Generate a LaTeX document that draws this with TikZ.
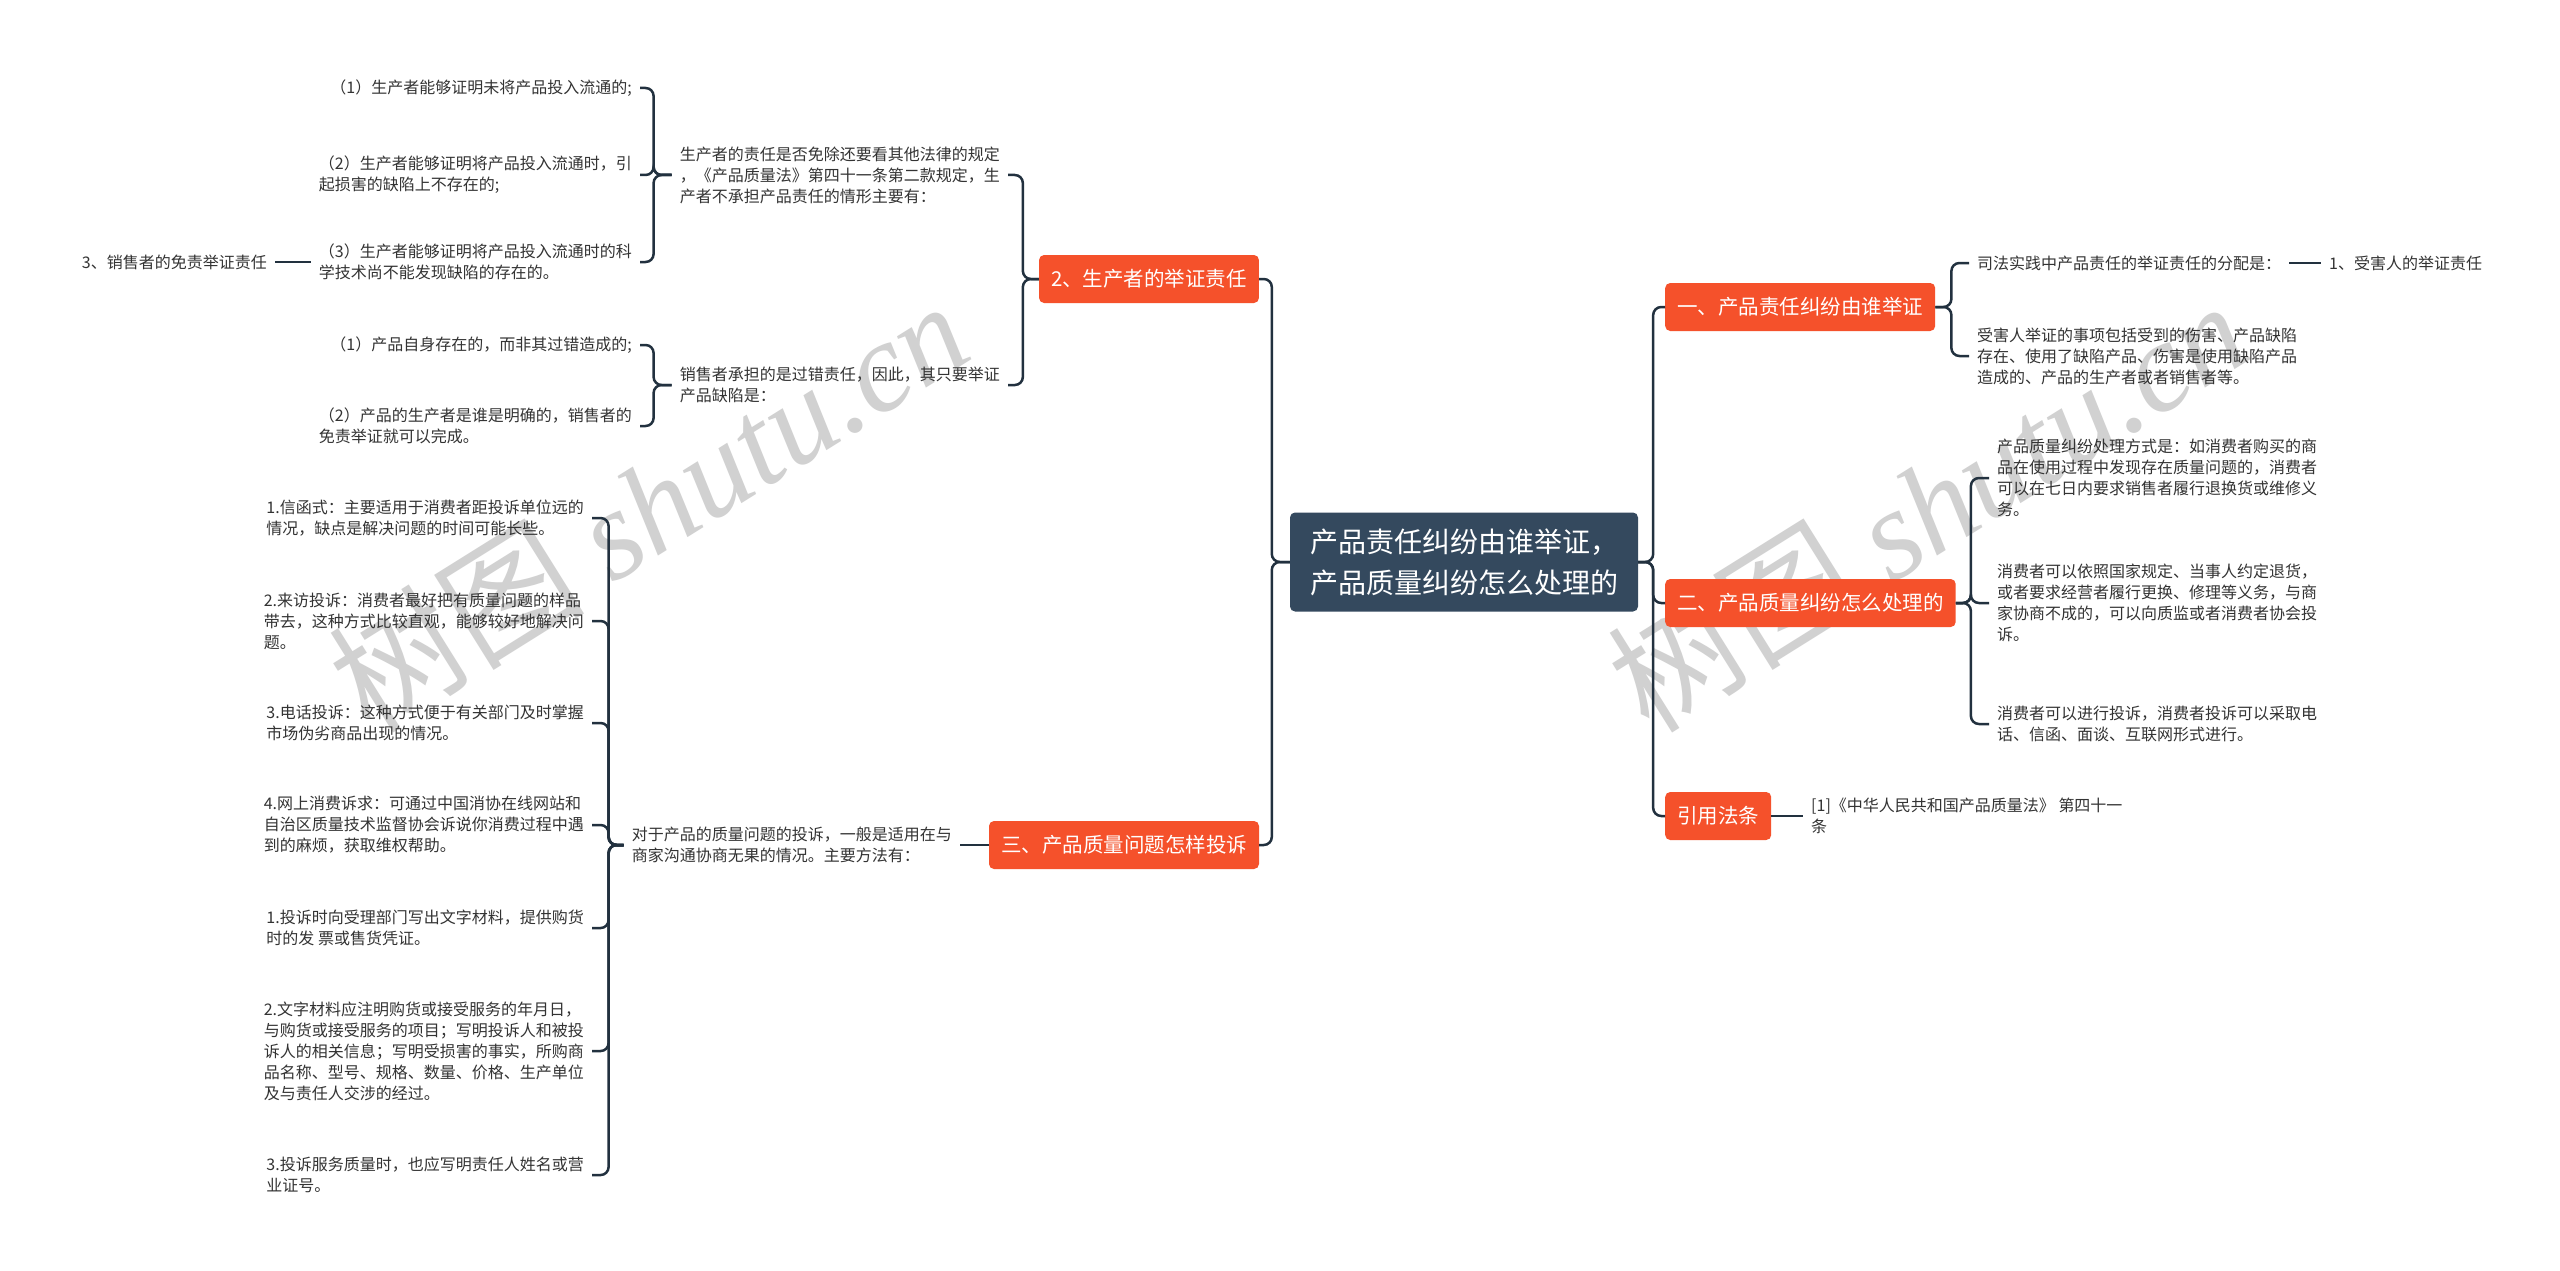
\documentclass[tikz,border=0pt]{standalone}
\usepackage{fontspec}
\setmainfont{Noto Sans CJK SC}
\newfontfamily\wmlatin{Liberation Serif}
\definecolor{wurzelblau}{HTML}{34495E}
\definecolor{astrot}{HTML}{F5512B}
\definecolor{linie}{HTML}{22313F}
\definecolor{textgrau}{HTML}{333333}

\tikzset{
  wurzel/.style={fill=wurzelblau, text=white, rounded corners=5pt, align=left,
    font=\fontsize{28}{41}\selectfont, minimum width=348pt, minimum height=99pt},
  ast/.style={fill=astrot, text=white, rounded corners=5pt,
    font=\fontsize{20.5}{24}\selectfont, inner xsep=12pt, minimum height=48pt},
  blatt/.style={text=textgrau, align=left, font=\fontsize{16}{21}\selectfont,
    inner xsep=8pt, inner ysep=2pt},
  verb/.style={draw=linie, line width=2.5pt, rounded corners=8pt},
  wasser/.style={text=black!18, rotate=32, font=\fontsize{128}{128}\selectfont},
}

\begin{document}
\begin{tikzpicture}[x=1pt,y=-1pt]
    % Rahmen
    \useasboundingbox (0,0) rectangle (2560,1271);
    \fill[white] (0,0) rectangle (2560,1271);

    % Wasserzeichen
    \node[wasser] (wz1) at (648,505) {树图 {\wmlatin\itshape shutu.cn}};
    \node[wasser] (wz2) at (1927,505) {树图 {\wmlatin\itshape shutu.cn}};

    % Wurzel
    \node[wurzel] (root) at (1464,562) {产品责任纠纷由谁举证，\\产品质量纠纷怎么处理的};

    % Aeste links
    \node[ast] (b2) at (1149,279) {2、生产者的举证责任};
    \node[ast] (b3) at (1124,845) {三、产品质量问题怎样投诉};

    % Aeste rechts
    \node[ast, anchor=west] (b1) at (1665,307) {一、产品责任纠纷由谁举证};
    \node[ast, anchor=west] (bz) at (1665,603) {二、产品质量纠纷怎么处理的};
    \node[ast, anchor=west] (bf) at (1665,816) {引用法条};

    % Blaetter unter 2
    \node[blatt, anchor=east] (t1) at (1008,175) {生产者的责任是否免除还要看其他法律的规定\\，《产品质量法》第四十一条第二款规定，生\\产者不承担产品责任的情形主要有：};
    \node[blatt, anchor=east] (t2) at (1008,385) {销售者承担的是过错责任，因此，其只要举证\\产品缺陷是：};
    \node[blatt, anchor=east] (p1) at (640,88) {（1）生产者能够证明未将产品投入流通的;};
    \node[blatt, anchor=east] (p2) at (640,175) {（2）生产者能够证明将产品投入流通时，引\\起损害的缺陷上不存在的;};
    \node[blatt, anchor=east] (p3) at (640,262) {（3）生产者能够证明将产品投入流通时的科\\学技术尚不能发现缺陷的存在的。};
    \node[blatt, anchor=east] (s3) at (275,262) {3、销售者的免责举证责任};
    \node[blatt, anchor=east] (q1) at (640,345) {（1）产品自身存在的，而非其过错造成的;};
    \node[blatt, anchor=east] (q2) at (640,426) {（2）产品的生产者是谁是明确的，销售者的\\免责举证就可以完成。};

    % Blaetter unter 三
    \node[blatt, anchor=east] (t3) at (960,845) {对于产品的质量问题的投诉，一般是适用在与\\商家沟通协商无果的情况。主要方法有：};
    \node[blatt, anchor=east] (c1) at (592,518) {1.信函式：主要适用于消费者距投诉单位远的\\情况，缺点是解决问题的时间可能长些。};
    \node[blatt, anchor=east] (c2) at (592,621) {2.来访投诉：消费者最好把有质量问题的样品\\带去，这种方式比较直观，能够较好地解决问\\题。};
    \node[blatt, anchor=east] (c3) at (592,723) {3.电话投诉：这种方式便于有关部门及时掌握\\市场伪劣商品出现的情况。};
    \node[blatt, anchor=east] (c4) at (592,825) {4.网上消费诉求：可通过中国消协在线网站和\\自治区质量技术监督协会诉说你消费过程中遇\\到的麻烦，获取维权帮助。};
    \node[blatt, anchor=east] (c5) at (592,928) {1.投诉时向受理部门写出文字材料，提供购货\\时的发 票或售货凭证。};
    \node[blatt, anchor=east] (c6) at (592,1051) {2.文字材料应注明购货或接受服务的年月日，\\与购货或接受服务的项目；写明投诉人和被投\\诉人的相关信息；写明受损害的事实，所购商\\品名称、型号、规格、数量、价格、生产单位\\及与责任人交涉的经过。};
    \node[blatt, anchor=east] (c7) at (592,1175) {3.投诉服务质量时，也应写明责任人姓名或营\\业证号。};

    % Blaetter rechts
    \node[blatt, anchor=west] (r1) at (1969,263) {司法实践中产品责任的举证责任的分配是：};
    \node[blatt, anchor=west] (r1a) at (2321,263) {1、受害人的举证责任};
    \node[blatt, anchor=west] (r2) at (1969,356) {受害人举证的事项包括受到的伤害、产品缺陷\\存在、使用了缺陷产品、伤害是使用缺陷产品\\造成的、产品的生产者或者销售者等。};
    \node[blatt, anchor=west] (z1) at (1989,478) {产品质量纠纷处理方式是：如消费者购买的商\\品在使用过程中发现存在质量问题的，消费者\\可以在七日内要求销售者履行退换货或维修义\\务。};
    \node[blatt, anchor=west] (z2) at (1989,603) {消费者可以依照国家规定、当事人约定退货，\\或者要求经营者履行更换、修理等义务，与商\\家协商不成的，可以向质监或者消费者协会投\\诉。};
    \node[blatt, anchor=west] (z3) at (1989,724) {消费者可以进行投诉，消费者投诉可以采取电\\话、信函、面谈、互联网形式进行。};
    \node[blatt, anchor=west] (f1) at (1803,816) {[1]《中华人民共和国产品质量法》 第四十一\\条};

    % Verbindungen Wurzel
    \foreach \b in {b2,b3}
    {
        \draw[verb] (root.west) -- ++(-18,0) |- (\b.east);
    }
    \foreach \b in {b1,bz,bf}
    {
        \draw[verb] (root.east) -- ++(15,0) |- (\b.west);
    }

    % Verbindungen links
    \foreach \t in {t1,t2}
    {
        \draw[verb] (b2.west) -- ++(-16,0) |- (\t.east);
    }
    \foreach \p in {p1,p2,p3}
    {
        \draw[verb] (t1.west) -- ++(-18,0) |- (\p.east);
    }
    \foreach \q in {q1,q2}
    {
        \draw[verb] (t2.west) -- ++(-18,0) |- (\q.east);
    }
    \draw[verb] (p3.west) -- (s3.east);
    \draw[verb] (b3.west) -- (t3.east);
    \foreach \k in {1,...,7}
    {
        \draw[verb] (t3.west) -- ++(-15,0) |- (c\k.east);
    }

    % Verbindungen rechts
    \foreach \r in {r1,r2}
    {
        \draw[verb] (b1.east) -- ++(16,0) |- (\r.west);
    }
    \draw[verb] (r1.east) -- (r1a.west);
    \foreach \z in {z1,z2,z3}
    {
        \draw[verb] (bz.east) -- ++(15,0) |- (\z.west);
    }
    \draw[verb] (bf.east) -- (f1.west);
\end{tikzpicture}
\end{document}
